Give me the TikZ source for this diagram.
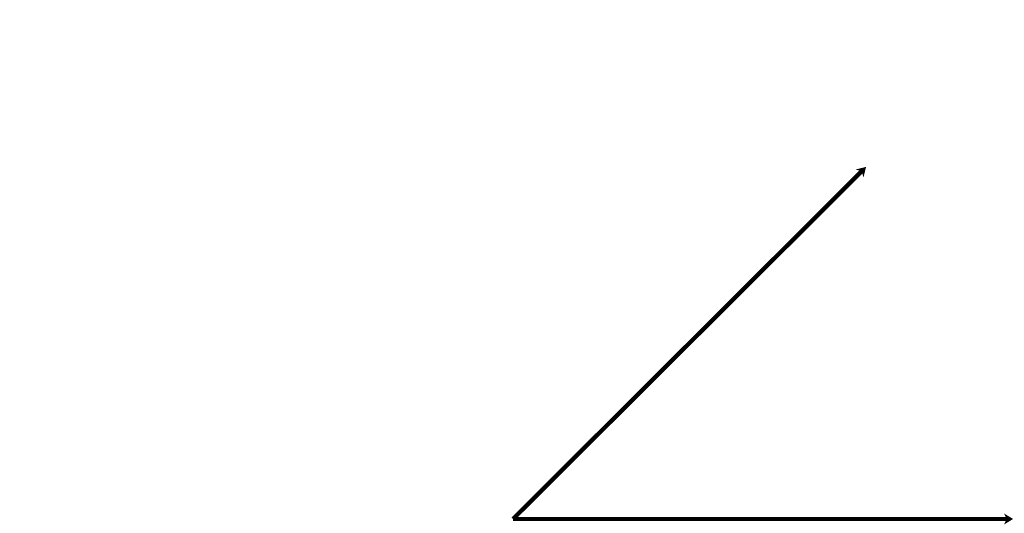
\documentclass[tikz,border=0pt]{standalone}
\usetikzlibrary{arrows.meta, calc, positioning}

\begin{document}
\begin{tikzpicture}

    \useasboundingbox (0,0) rectangle (20.48cm,10.66cm);

    \coordinate (O) at (10.26cm,0.28cm);
    \coordinate (X) at (20.26cm,0.28cm);
    \coordinate (D) at (17.32cm,7.32cm);

    \draw[-{Stealth[length=5pt,width=6pt,inset=1.5pt]},line width=2.4pt] (O) -- (X);
    \draw[-{Stealth[length=5pt,width=6pt,inset=1.5pt]},line width=2.4pt] (O) -- (D);

\end{tikzpicture}
\end{document}
